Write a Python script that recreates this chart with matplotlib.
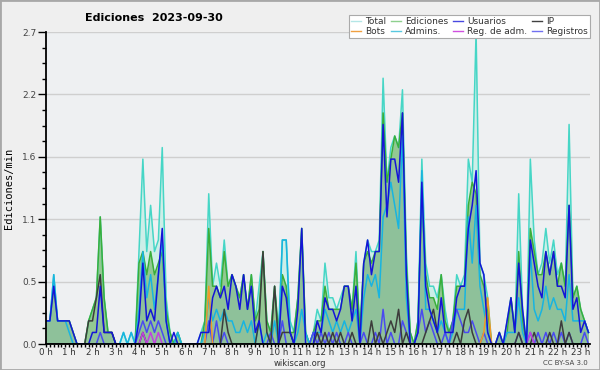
import numpy as np
import matplotlib
matplotlib.use("Agg")
import matplotlib.pyplot as plt
from matplotlib.ticker import AutoMinorLocator, MultipleLocator, FixedLocator
from matplotlib.patches import Rectangle

# edits per 10 minutes (tenths of edits/min), 0:00 .. 23:20, one row per hour
total = [
    2, 2, 6, 2, 2, 2,   2, 1, 0, 0, 0, 2,   3, 4, 11, 4, 1, 1,   0, 0, 1, 0, 1, 0,
    8, 16, 8, 12, 8, 9,   17, 4, 1, 0, 1, 0,   0, 0, 0, 0, 1, 2,   13, 5, 7, 5, 9, 5,
    6, 5, 4, 6, 3, 6,   2, 5, 8, 2, 1, 5,   1, 9, 9, 2, 1, 4,   10, 1, 0, 1, 3, 2,
    7, 4, 4, 3, 4, 5,   5, 3, 8, 1, 7, 9,   8, 8, 9, 23, 14, 17,   18, 17, 22, 8, 1, 0,
    2, 16, 7, 5, 5, 4,   6, 3, 1, 2, 6, 5,   6, 16, 14, 27, 7, 6,   4, 0, 0, 1, 0, 2,
    4, 1, 13, 3, 0, 16,   9, 6, 7, 10, 7, 9,   6, 7, 5, 19, 4, 5,   3, 2, 1,
]
ediciones = [
    2, 2, 5, 2, 2, 2,   2, 1, 0, 0, 0, 2,   3, 4, 11, 4, 1, 1,   0, 0, 0, 0, 0, 0,
    7, 8, 6, 8, 6, 7,   8, 3, 1, 0, 1, 0,   0, 0, 0, 0, 0, 2,   10, 5, 5, 4, 8, 5,
    6, 5, 4, 6, 3, 6,   2, 3, 8, 2, 1, 5,   1, 6, 5, 1, 1, 4,   10, 1, 0, 1, 2, 2,
    5, 3, 3, 3, 3, 5,   5, 3, 7, 1, 7, 8,   7, 8, 8, 20, 14, 16,   18, 17, 20, 7, 1, 0,
    2, 13, 6, 4, 4, 3,   6, 2, 1, 2, 5, 5,   5, 12, 14, 13, 6, 5,   3, 0, 0, 1, 0, 1,
    4, 1, 8, 2, 0, 10,   8, 6, 6, 8, 6, 8,   5, 7, 5, 12, 4, 5,   3, 2, 1,
]
usuarios = [
    2, 2, 5, 2, 2, 2,   2, 1, 0, 0, 0, 0,   1, 1, 5, 1, 1, 1,   0, 0, 0, 0, 0, 0,
    2, 7, 2, 3, 2, 6,   10, 2, 0, 1, 0, 0,   0, 0, 0, 0, 1, 1,   1, 4, 5, 4, 5, 3,
    6, 5, 3, 6, 3, 5,   1, 2, 0, 0, 0, 0,   0, 5, 4, 1, 0, 3,   10, 0, 0, 0, 2, 1,
    4, 3, 3, 2, 3, 5,   5, 2, 5, 0, 7, 9,   6, 8, 8, 19, 11, 16,   16, 14, 20, 6, 0, 0,
    1, 14, 5, 3, 2, 1,   4, 1, 1, 1, 4, 5,   5, 10, 12, 15, 7, 6,   1, 0, 0, 1, 0, 2,
    4, 1, 7, 3, 0, 9,   7, 5, 4, 8, 6, 8,   5, 5, 4, 12, 3, 4,   1, 2, 1,
]
admins = [
    2, 2, 6, 2, 2, 2,   1, 0, 0, 0, 0, 0,   0, 0, 0, 0, 0, 0,   0, 0, 1, 0, 1, 0,
    3, 8, 4, 6, 3, 6,   9, 2, 0, 0, 1, 0,   0, 0, 0, 0, 0, 1,   4, 2, 3, 2, 3, 2,
    2, 1, 1, 2, 1, 2,   0, 2, 0, 1, 0, 2,   0, 9, 9, 1, 0, 1,   3, 1, 0, 1, 1, 1,
    3, 2, 1, 2, 1, 2,   1, 2, 3, 0, 4, 6,   5, 6, 4, 11, 12, 14,   12, 10, 18, 4, 0, 0,
    1, 15, 3, 3, 2, 1,   2, 1, 0, 1, 3, 3,   3, 11, 7, 12, 5, 3,   1, 0, 0, 0, 0, 1,
    1, 1, 4, 1, 0, 8,   3, 2, 3, 5, 3, 4,   3, 3, 2, 6, 2, 2,   2, 2, 1,
]
ip = [
    0, 0, 0, 0, 0, 0,   0, 0, 0, 0, 0, 2,   2, 4, 6, 1, 1, 1,   0, 0, 0, 0, 0, 0,
    0, 1, 0, 0, 0, 0,   0, 0, 0, 0, 0, 0,   0, 0, 0, 0, 0, 0,   0, 0, 0, 0, 3, 1,
    0, 0, 0, 0, 0, 0,   0, 2, 8, 1, 0, 5,   0, 1, 1, 1, 0, 0,   0, 0, 0, 0, 1, 0,
    1, 0, 1, 0, 1, 0,   0, 1, 0, 0, 0, 0,   2, 0, 1, 0, 1, 2,   1, 3, 0, 1, 0, 0,
    0, 0, 1, 2, 3, 1,   0, 0, 0, 0, 1, 0,   2, 3, 1, 0, 0, 0,   0, 0, 0, 0, 0, 0,
    0, 0, 1, 0, 0, 0,   1, 0, 0, 0, 1, 0,   0, 2, 0, 1, 0, 0,   0, 0, 0,
]
registros = [
    0, 0, 0, 0, 0, 0,   0, 0, 0, 0, 0, 0,   0, 0, 1, 0, 0, 0,   0, 0, 0, 0, 0, 0,
    1, 2, 1, 2, 1, 2,   1, 0, 0, 0, 0, 0,   0, 0, 0, 0, 0, 0,   2, 0, 2, 0, 1, 0,
    0, 0, 0, 0, 0, 0,   0, 0, 0, 0, 1, 0,   0, 2, 0, 0, 0, 0,   0, 0, 0, 1, 0, 1,
    0, 1, 0, 1, 0, 0,   1, 0, 0, 0, 1, 0,   0, 1, 0, 3, 0, 1,   0, 0, 2, 1, 0, 0,
    1, 3, 1, 2, 1, 0,   0, 1, 0, 2, 3, 2,   1, 1, 2, 1, 0, 1,   0, 0, 0, 0, 0, 0,
    0, 0, 1, 0, 0, 1,   0, 1, 0, 1, 0, 1,   0, 1, 0, 1, 0, 0,   0, 1, 0,
]
# sparse series: {index: value}
reg_adm_pts = {25: 1, 27: 1, 29: 1, 125: 1}
bots_pts = {42: 5, 113: 1, 114: 4}

n = len(total)
hours = np.arange(n) / 6.0
reg_adm = np.zeros(n)
for k, v in reg_adm_pts.items():
    reg_adm[k] = v
bots = np.zeros(n)
for k, v in bots_pts.items():
    bots[k] = v

series = {
    "Total": np.array(total) / 10,
    "Ediciones": np.array(ediciones) / 10,
    "Usuarios": np.array(usuarios) / 10,
    "IP": np.array(ip) / 10,
    "Bots": bots / 10,
    "Admins.": np.array(admins) / 10,
    "Reg. de adm.": reg_adm / 10,
    "Registros": np.array(registros) / 10,
}
colors = {
    "Total": "#46d6c6",
    "Ediciones": "#3aae3a",
    "Usuarios": "#1414d8",
    "IP": "#3c3c3c",
    "Bots": "#f09a28",
    "Admins.": "#18b4e0",
    "Reg. de adm.": "#c040e0",
    "Registros": "#4a4af0",
}
legend_colors = {
    "Total": "#b4e6e6",
    "Ediciones": "#8ed08e",
    "Usuarios": "#4848e0",
    "IP": "#404040",
    "Bots": "#f0a040",
    "Admins.": "#58c8e0",
    "Reg. de adm.": "#d050e0",
    "Registros": "#7070f0",
}

fig = plt.figure(figsize=(6, 3.7), dpi=100, facecolor="#efefef")
ax = fig.add_axes([46 / 600, 1 - 344 / 370, 544 / 600, 312 / 370])
ax.set_facecolor("#eef0f2")

ax.fill_between(hours, series["Total"], color="#cdeee8", lw=0, zorder=1)
ax.fill_between(hours, series["Ediciones"], color="#93c893", lw=0, zorder=2)
ax.fill_between(hours, series["Usuarios"], color="#5070ff", alpha=0.07, lw=0, zorder=3)

draw_order = ["Total", "Ediciones", "Admins.", "Registros", "IP", "Reg. de adm.",
              "Bots", "Usuarios"]
for z, name in enumerate(draw_order):
    y = series[name]
    if name in ("Bots", "Reg. de adm."):
        # only draw the spikes, rising from their zero neighbours
        mask = np.zeros(n, bool)
        for k in np.nonzero(series[name])[0]:
            mask[max(k - 1, 0):k + 2] = True
        y = np.where(mask, series[name], np.nan)
    ax.plot(hours, y, color=colors[name], lw=1.1, zorder=4 + z)

ax.set_xlim(0, 23.4)
ax.set_ylim(0, 2.7)
yt = np.linspace(0, 2.7, 6)
ax.yaxis.set_major_locator(FixedLocator(yt))
ax.set_yticklabels([f"{v:.1f}" for v in yt])
ax.yaxis.set_minor_locator(AutoMinorLocator(4))
ax.xaxis.set_minor_locator(MultipleLocator(1 / 6))
ax.set_xticks(range(24))
ax.set_xticklabels([f"{h} h" for h in range(24)])

ax.grid(axis="y", which="major", color="#cfcfcf", lw=1, zorder=0)
ax.set_axisbelow(True)
for s in ("top", "right"):
    ax.spines[s].set_visible(False)
for s in ("left", "bottom"):
    ax.spines[s].set_linewidth(1.3)
    ax.spines[s].set_zorder(20)

ax.tick_params(axis="y", which="major", length=6, width=1, labelsize=6.5,
               labelcolor="#444444", pad=1)
ax.tick_params(axis="y", which="minor", length=3, width=1)
ax.tick_params(axis="x", which="both", length=2.5, width=1, labelsize=6.3,
               labelcolor="#333333", pad=0.5)

ax.set_ylabel("Ediciones/min", family="DejaVu Sans Mono", fontsize=7.5)
ax.yaxis.set_label_coords(-0.058, 0.5)

fig.text(85 / 600, 1 - 18 / 370, "Ediciones  2023-09-30", fontsize=8, weight="bold",
         va="center", ha="left")

handles = []
labels = ["Total", "Bots", "Ediciones", "Admins.", "Usuarios", "Reg. de adm.",
          "IP", "Registros"]
for name in labels:
    h, = ax.plot([], [], color=legend_colors[name], lw=1)
    handles.append(h)
leg = fig.legend(handles, labels, ncol=4, loc="upper right",
                 bbox_to_anchor=(595 / 600, 1 - 10 / 370), fontsize=6.5,
                 handlelength=1.1, handletextpad=0.4, columnspacing=0.6,
                 labelspacing=0.05, borderpad=0.3, fancybox=False,
                 framealpha=1, facecolor="white", edgecolor="#aaaaaa")
leg.get_frame().set_linewidth(0.8)
for t in leg.get_texts():
    t.set_color("#333333")

fig.text(300 / 600, 1 - 363 / 370, "wikiscan.org", fontsize=6, ha="center",
         va="center", color="#333333")
fig.text(588 / 600, 1 - 363 / 370, "CC BY-SA 3.0", fontsize=5, ha="right",
         va="center", color="#444444")

fig.patches.append(Rectangle((0, 0), 1, 1, transform=fig.transFigure, fill=False,
                             edgecolor="#a8a8a8", lw=2))

fig.savefig("out.png", dpi=100, facecolor=fig.get_facecolor())
